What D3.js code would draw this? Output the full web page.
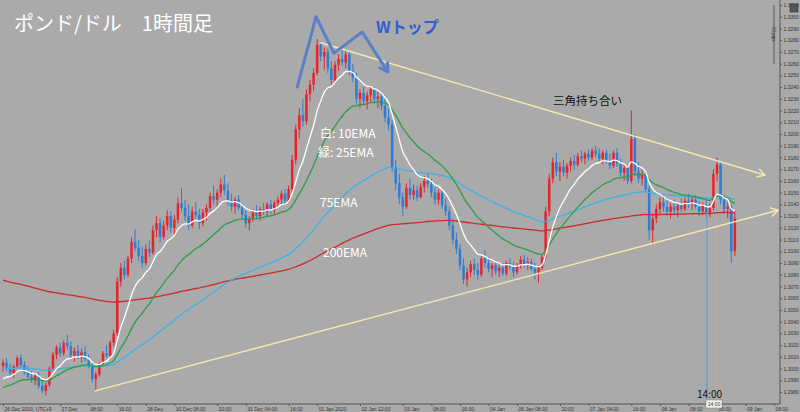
<!DOCTYPE html>
<html>
<head>
<meta charset="utf-8">
<script src="https://cdn.jsdelivr.net/npm/d3@7"></script>
<style>
  html, body { margin: 0; padding: 0; background: #aaaaaa; }
  svg { display: block; }
</style>
</head>
<body>
<svg width="800" height="412"></svg>
<script>
// ポンド/ドル 1時間足 : hourly candles, values in pips above 1.3000  [open, high, low, close]
const candles = [
  [2,8,-3,5],[5,9,-2,0],[0,4,-6,-4],[-4,3,-8,2],[2,11,0,9],[9,12,1,3],[3,6,-5,-3],[-3,2,-9,-7],
  [-7,-2,-12,-10],[-10,-4,-14,-6],[-6,-3,-17,-15],[-15,-10,-21,-19],[-19,-12,-23,-14],
  [-14,2,-16,0],[0,14,-2,12],[12,20,8,18],[18,22,10,13],[13,24,11,22],[22,29,16,19],[19,23,9,11],
  [11,18,6,15],[15,20,8,10],[10,17,5,14],[14,19,6,8],[8,12,0,2],[2,5,-12,-9],[-9,-3,-19,-5],
  [-5,6,-7,4],[4,15,2,13],[13,20,9,11],[11,24,8,22],[22,33,19,30],[30,78,28,74],
  [74,90,70,86],[86,92,76,80],[80,96,78,94],[94,112,90,108],[108,119,100,103],[103,110,92,96],
  [96,104,86,90],[90,106,88,102],[102,109,95,99],[99,122,97,118],[118,130,112,124],[124,128,108,112],
  [112,126,110,122],[122,135,118,130],[130,134,116,120],[120,131,114,127],[127,146,124,141],
  [141,154,134,137],[137,144,126,130],[130,140,118,122],[122,138,120,134],[134,142,128,131],
  [131,136,119,124],[124,136,121,133],[133,140,126,137],[137,150,134,147],[147,156,140,144],
  [144,153,137,150],[150,162,146,157],[157,165,148,152],[152,158,139,143],[143,149,134,138],
  [138,146,132,144],[144,148,135,137],[137,141,128,131],[131,135,120,124],[124,130,118,128],
  [128,136,125,133],[133,139,127,130],[130,138,126,136],[136,141,131,134],[134,142,130,140],
  [140,144,132,135],[135,143,131,141],[141,147,137,144],[144,152,139,149],[149,153,140,143],
  [143,156,141,153],[153,182,150,178],[178,208,174,204],[204,222,196,216],[216,230,206,211],
  [211,238,208,234],[234,246,228,242],[242,256,237,252],[252,281,250,276],[276,279,262,266],
  [266,274,255,270],[270,273,252,256],[256,262,240,246],[246,262,243,259],[259,268,254,264],
  [264,273,258,261],[261,272,256,268],[268,270,250,254],[254,260,244,248],[248,252,226,230],
  [230,238,222,235],[235,240,224,228],[228,236,221,233],[233,241,227,238],[238,240,226,230],
  [230,236,222,232],[232,236,220,224],[224,230,210,214],[214,222,203,208],[208,212,168,172],
  [172,178,152,158],[158,166,140,146],[146,150,130,138],[138,158,136,154],[154,162,144,148],
  [148,157,144,152],[152,156,143,146],[146,158,145,155],[155,164,150,160],[160,167,154,157],
  [157,162,146,150],[150,155,140,144],[144,153,140,150],[150,152,136,139],[139,145,130,134],
  [134,138,118,122],[122,128,106,110],[110,116,98,102],[102,106,84,88],[88,94,72,76],
  [76,86,70,82],[82,92,78,89],[89,94,80,84],[84,90,76,80],[80,96,78,94],[94,101,86,90],
  [90,95,82,85],[85,90,78,88],[88,92,80,83],[83,88,78,86],[86,90,79,81],[81,92,79,90],
  [90,94,84,87],[87,91,78,82],[82,90,80,88],[88,96,85,93],[93,97,86,89],[89,95,84,91],
  [91,94,83,85],[85,90,76,82],[82,88,73,86],[86,97,84,95],[95,138,93,134],[134,166,130,162],
  [162,180,158,176],[176,184,164,168],[168,176,160,172],[172,178,164,167],[167,175,162,173],
  [173,180,168,177],[177,182,170,174],[174,184,172,181],[181,186,176,179],[179,185,174,183],
  [183,187,177,180],[180,188,178,186],[186,190,180,183],[183,188,177,179],[179,186,174,184],
  [184,187,175,177],[177,183,170,173],[173,186,171,184],[184,188,172,175],[175,179,164,167],
  [167,175,160,171],[171,174,157,160],[160,220,158,196],[196,200,164,168],[168,176,158,162],
  [162,170,156,165],[165,168,150,153],[153,156,110,118],[118,132,106,128],[128,140,124,136],
  [136,146,132,142],[142,148,134,138],[138,145,130,134],[134,141,128,138],[138,144,131,135],
  [135,141,129,139],[139,145,133,136],[136,146,134,143],[143,149,137,140],[140,147,135,144],
  [144,148,136,138],[138,143,130,134],[134,142,131,139],[139,143,128,132],[132,141,129,137],
  [137,170,135,166],[166,180,160,174],[174,176,140,144],[144,148,132,136],[136,142,128,138],
  [138,140,90,100],[100,134,96,128]
];

// EMA periods and their starting values (pips above 1.3000, read at the left edge)
const emaPeriods = [200, 75, 25, 10];
const emaSeeds = [76, 0, -18, -12];

// time axis: candle index -> label
const timeTickIndex = [0,16,24,32,40,48,60,68,80,88,100,112,120,128,136,144,156,164,176,184,192,200,208,216];
const timeTickLabels = ["26 Dec 2019, UTC+9","27 Dec","08:00","16:00","28 Dec","30 Dec 08:00","20:00",
  "31 Dec 04:00","16:00","01 Jan 2020","02 Jan 12:00","03 Jan","08:00","16:00","04 Jan",
  "06 Jan 08:00","20:00","07 Jan 04:00","16:00","08 Jan","08:00","16:00","09 Jan","08:00"];

// price axis
const priceTicks = d3.range(0, 34).map(k => +(1.3310 - k * 0.001).toFixed(4));

// drawn annotations, [candle index, pips above 1.3000]
const upperTrend = [[88.8, 278], [213.4, 165]];
const lowerTrend = [[25.8, -19], [217.1, 135]];
const wShape = [[82.4, 240], [87.7, 300], [92.7, 269], [100.6, 287], [107.8, 253]];
const markerIndex = 197.2;   // 14:00 vertical line
const rulerPips = 50;

// ---------------------------------------------------------------------------
const upColor = "#e8242b", downColor = "#2d7cd6";
const emaColors = ["#cc2b2b", "#3cb2e6", "#2c9e48", "#ffffff"];
const trendColor = "#f5e9ae";

const svg = d3.select("svg");
const plotRight = 780, plotBottom = 404;

const x = d3.scaleLinear().domain([0, 216]).range([3, 3 + 216 * 3.57]);
const y = d3.scaleLinear().domain([1.2980, 1.3310]).range([392, 5]);
const P = v => 1.3 + v / 10000;

svg.append("defs").append("clipPath").attr("id", "plot")
  .append("rect").attr("x", 0).attr("y", 0).attr("width", plotRight).attr("height", plotBottom);

const plot = svg.append("g").attr("clip-path", "url(#plot)");

// candles
const cg = plot.append("g");
cg.selectAll("line.wick").data(candles).enter().append("line")
  .attr("x1", (d, i) => x(i)).attr("x2", (d, i) => x(i))
  .attr("y1", d => y(P(d[1]))).attr("y2", d => y(P(d[2])))
  .attr("stroke", d => d[3] >= d[0] ? upColor : downColor)
  .attr("stroke-width", 1);
cg.selectAll("rect.body").data(candles).enter().append("rect")
  .attr("x", (d, i) => x(i) - 1.25).attr("width", 2.5)
  .attr("y", d => y(P(Math.max(d[0], d[3]))))
  .attr("height", d => Math.max(1, Math.abs(y(P(d[0])) - y(P(d[3])))))
  .attr("fill", d => d[3] >= d[0] ? upColor : downColor);

// EMAs from closing values
const line = d3.line().x((d, i) => x(i)).y(d => y(P(d))).curve(d3.curveMonotoneX);
emaPeriods.forEach((n, j) => {
  const k = 2 / (n + 1);
  let e = emaSeeds[j];
  const vals = candles.map(d => (e = e + k * (d[3] - e)));
  plot.append("path").datum(vals)
    .attr("d", line).attr("fill", "none")
    .attr("stroke", emaColors[j]).attr("stroke-width", 1.3);
});

// 14:00 marker lines
plot.append("line")
  .attr("x1", x(markerIndex)).attr("x2", x(markerIndex))
  .attr("y1", 212).attr("y2", 393)
  .attr("stroke", "#6f9fd0").attr("stroke-width", 1.6);
plot.append("line")
  .attr("x1", x(markerIndex + 2.6)).attr("x2", x(markerIndex + 2.6))
  .attr("y1", 215).attr("y2", 389)
  .attr("stroke", "#c8a6a6").attr("stroke-width", 1);

// trend lines with arrow heads
function arrowLine(pts, color, width, head) {
  const p = pts.map(d => [x(d[0]), y(P(d[1]))]);
  svg.append("path").attr("d", d3.line()(p))
    .attr("fill", "none").attr("stroke", color).attr("stroke-width", width)
    .attr("stroke-linejoin", "round").attr("stroke-linecap", "round");
  const a = p[p.length - 1], b = p[p.length - 2];
  const ang = Math.atan2(a[1] - b[1], a[0] - b[0]);
  const h = [ang + 2.6, ang - 2.6].map(t => [a[0] + head * Math.cos(t), a[1] + head * Math.sin(t)]);
  svg.append("path").attr("d", d3.line()([h[0], a, h[1]]))
    .attr("fill", "none").attr("stroke", color).attr("stroke-width", width)
    .attr("stroke-linejoin", "round").attr("stroke-linecap", "round");
}
arrowLine(upperTrend, trendColor, 1.4, 8);
arrowLine(lowerTrend, trendColor, 1.4, 8);
arrowLine(wShape, "#5a7fc4", 3, 9);

// axes
svg.append("line").attr("x1", 0).attr("x2", plotRight).attr("y1", plotBottom).attr("y2", plotBottom)
  .attr("stroke", "#555").attr("stroke-width", 1);
svg.append("line").attr("x1", plotRight).attr("x2", plotRight).attr("y1", 0).attr("y2", plotBottom)
  .attr("stroke", "#555").attr("stroke-width", 1);

const yAxis = svg.append("g").attr("transform", `translate(${plotRight},0)`)
  .call(d3.axisRight(y).tickValues(priceTicks).tickSize(2).tickPadding(1.5).tickFormat(d3.format(".4f")));
yAxis.select(".domain").remove();
yAxis.selectAll("text").attr("font-family", "Liberation Sans, Arial, sans-serif").attr("font-size", 5).attr("fill", "#333");
yAxis.selectAll("line").attr("stroke", "#555");

const xAxis = svg.append("g").attr("transform", `translate(0,${plotBottom})`)
  .call(d3.axisBottom(x).tickValues(timeTickIndex).tickSize(2).tickPadding(1)
    .tickFormat((d, i) => timeTickLabels[i]));
xAxis.select(".domain").remove();
xAxis.selectAll("text").attr("text-anchor", "start").attr("dx", 1)
  .attr("font-family", "Liberation Sans, Arial, sans-serif").attr("font-size", 5).attr("fill", "#333");
xAxis.selectAll("line").attr("stroke", "#555");

// pips ruler (top right)
svg.append("line").attr("x1", 774).attr("x2", 774)
  .attr("y1", y(1.3310)).attr("y2", y(1.3310 - rulerPips / 10000))
  .attr("stroke", "#444").attr("stroke-width", 0.8);
svg.append("text").attr("transform", `translate(772,${(y(1.3310) + y(1.3310 - rulerPips / 10000)) / 2}) rotate(90)`)
  .attr("text-anchor", "middle").attr("font-family", "Liberation Sans, Arial, sans-serif")
  .attr("font-size", 4.5).attr("fill", "#333").text(rulerPips + " pips");
svg.append("rect").attr("x", 790).attr("y", 4).attr("width", 8).attr("height", 8)
  .attr("fill", "#555").attr("stroke", "#333").attr("stroke-width", 0.6);

// marker time box
svg.append("rect").attr("x", x(markerIndex) - 1).attr("y", plotBottom - 4).attr("width", 16).attr("height", 8)
  .attr("fill", "#f4f4f4").attr("stroke", "#777").attr("stroke-width", 0.5);
svg.append("text").attr("x", x(markerIndex) + 7).attr("y", plotBottom + 2)
  .attr("text-anchor", "middle").attr("font-family", "Liberation Sans, Arial, sans-serif")
  .attr("font-size", 5).attr("fill", "#333").text("14:00");

// annotation texts
const jp = "'Noto Sans CJK JP', 'Noto Sans', sans-serif";
svg.append("text").attr("x", 14).attr("y", 31).attr("font-family", jp).attr("font-size", 20)
  .attr("fill", "#ffffff").text("ポンド/ドル　1時間足");
svg.append("text").attr("x", 376).attr("y", 33).attr("font-family", jp).attr("font-size", 16)
  .attr("font-weight", "bold").attr("fill", "#2f5fcf").text("Wトップ");
svg.append("text").attr("x", 553).attr("y", 105).attr("font-family", jp).attr("font-size", 11.5)
  .attr("fill", "#111").text("三角持ち合い");
[["白: 10EMA", 320, 138], ["緑: 25EMA", 318, 157], ["75EMA", 320, 207], ["200EMA", 323, 257]]
  .forEach(t => svg.append("text").attr("x", t[1]).attr("y", t[2]).attr("font-family", jp)
    .attr("font-size", 12).attr("fill", "#ffffff").text(t[0]));
svg.append("text").attr("x", 697).attr("y", 398).attr("font-family", jp).attr("font-size", 10)
  .attr("fill", "#111").text("14:00");
</script>
</body>
</html>
